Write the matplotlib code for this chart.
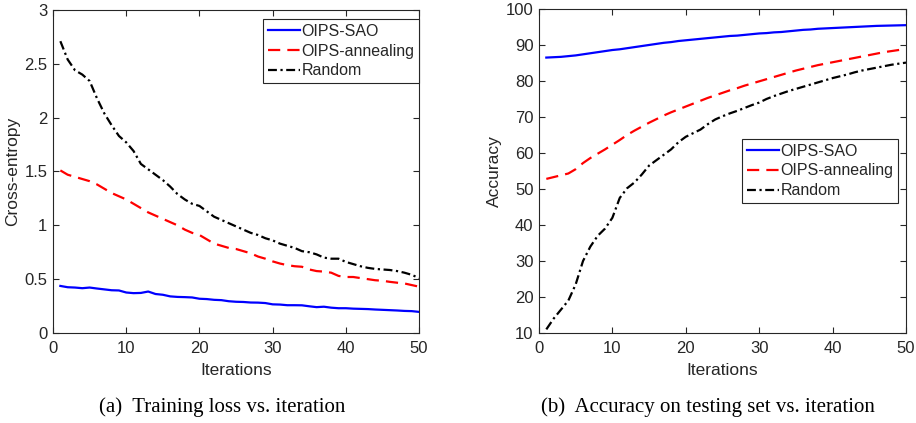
import numpy as np
import matplotlib
matplotlib.use("Agg")
import matplotlib.pyplot as plt

plt.rcParams["font.family"] = ["Liberation Sans", "DejaVu Sans"]

iterations = list(range(1, 51))

# training loss (cross-entropy)
loss_sao = [0.437, 0.425, 0.422, 0.416, 0.422, 0.413, 0.405, 0.397, 0.395, 0.376,
            0.370, 0.372, 0.385, 0.362, 0.355, 0.340, 0.335, 0.333, 0.330, 0.318,
            0.315, 0.308, 0.305, 0.295, 0.290, 0.288, 0.283, 0.282, 0.278, 0.266,
            0.264, 0.258, 0.258, 0.257, 0.248, 0.240, 0.244, 0.235, 0.230, 0.230,
            0.226, 0.224, 0.222, 0.218, 0.215, 0.212, 0.209, 0.205, 0.203, 0.196]
loss_annealing = [1.51, 1.47, 1.45, 1.43, 1.41, 1.38, 1.34, 1.30, 1.27, 1.24,
                  1.20, 1.16, 1.12, 1.09, 1.06, 1.03, 1.00, 0.96, 0.93, 0.91,
                  0.87, 0.83, 0.81, 0.79, 0.78, 0.76, 0.74, 0.71, 0.69, 0.665,
                  0.645, 0.63, 0.62, 0.615, 0.59, 0.575, 0.57, 0.56, 0.53, 0.52,
                  0.52, 0.51, 0.50, 0.49, 0.485, 0.475, 0.467, 0.46, 0.445, 0.43]
loss_random = [2.71, 2.54, 2.44, 2.40, 2.34, 2.18, 2.04, 1.93, 1.83, 1.77,
               1.69, 1.57, 1.52, 1.47, 1.42, 1.36, 1.29, 1.24, 1.20, 1.18,
               1.13, 1.08, 1.05, 1.02, 0.99, 0.96, 0.93, 0.91, 0.88, 0.86,
               0.83, 0.81, 0.79, 0.76, 0.75, 0.73, 0.70, 0.69, 0.69, 0.66,
               0.64, 0.62, 0.605, 0.595, 0.59, 0.585, 0.575, 0.56, 0.54, 0.51]

# accuracy on testing set
acc_sao = [86.5, 86.6, 86.7, 86.9, 87.1, 87.4, 87.7, 88.0, 88.3, 88.6,
           88.8, 89.1, 89.4, 89.7, 90.0, 90.3, 90.6, 90.8, 91.1, 91.3,
           91.5, 91.7, 91.9, 92.1, 92.3, 92.5, 92.6, 92.8, 93.0, 93.2,
           93.3, 93.5, 93.6, 93.8, 94.0, 94.2, 94.3, 94.5, 94.6, 94.7,
           94.8, 94.9, 95.0, 95.1, 95.2, 95.3, 95.35, 95.4, 95.45, 95.5]
acc_annealing = [52.8, 53.3, 53.8, 54.3, 55.5, 57.2, 58.6, 59.8, 61.0, 62.3,
                 63.6, 65.0, 66.2, 67.3, 68.4, 69.4, 70.4, 71.3, 72.1, 72.9,
                 73.7, 74.5, 75.3, 76.0, 76.7, 77.4, 78.0, 78.7, 79.3, 79.9,
                 80.5, 81.1, 81.7, 82.3, 82.9, 83.4, 83.9, 84.4, 84.8, 85.2,
                 85.6, 86.0, 86.4, 86.8, 87.2, 87.6, 88.0, 88.3, 88.6, 88.9]
acc_random = [11.0, 14.0, 16.5, 19.0, 23.5, 30.0, 34.0, 37.0, 39.0, 42.0,
              47.5, 50.2, 51.8, 54.0, 56.5, 58.0, 59.5, 61.0, 63.0, 64.5,
              65.5, 66.5, 68.0, 69.3, 70.2, 71.0, 71.7, 72.5, 73.3, 74.0,
              75.0, 75.8, 76.5, 77.2, 77.8, 78.4, 79.0, 79.6, 80.2, 80.8,
              81.3, 81.8, 82.4, 82.9, 83.3, 83.7, 84.1, 84.5, 84.8, 85.1]

labels = ["OIPS-SAO", "OIPS-annealing", "Random"]
AXCOL = "#262626"


def style_axes(ax):
    ax.tick_params(direction="in", top=True, right=True, length=4, width=0.8,
                   labelsize=12, colors=AXCOL)
    ax.tick_params(axis="x", pad=6)
    ax.tick_params(axis="y", pad=4)
    for s in ax.spines.values():
        s.set_color(AXCOL)
        s.set_linewidth(0.8)
    ax.set_xlabel("Iterations", fontsize=12.5, color=AXCOL, labelpad=5)


def draw_lines(ax, sao, ann, rnd):
    ax.plot(iterations, sao, "-", color="#0000ff", lw=1.6)
    ax.plot(iterations, ann, color="#ff0000", lw=1.6, dashes=(5.5, 3.2))
    ax.plot(iterations, rnd, color="black", lw=1.6, dashes=(4, 1.6, 1, 1.6))


fig = plt.figure(figsize=(9.16, 4.23), dpi=100)
ax1 = fig.add_axes([0.0579, 0.2128, 0.3996, 0.7636])
ax2 = fig.add_axes([0.5884, 0.2128, 0.4007, 0.7660])

draw_lines(ax1, loss_sao, loss_annealing, loss_random)
ax1.set_xlim(0, 50)
ax1.set_ylim(0, 3)
ax1.set_xticks([0, 10, 20, 30, 40, 50])
ax1.set_yticks([0, 0.5, 1, 1.5, 2, 2.5, 3])
ax1.set_yticklabels(["0", "0.5", "1", "1.5", "2", "2.5", "3"])
ax1.set_ylabel("Cross-entropy", fontsize=12.5, color=AXCOL, labelpad=3)
style_axes(ax1)

draw_lines(ax2, acc_sao, acc_annealing, acc_random)
ax2.set_xlim(0, 50)
ax2.set_ylim(10, 100)
ax2.set_xticks([0, 10, 20, 30, 40, 50])
ax2.set_yticks(list(range(10, 101, 10)))
ax2.set_ylabel("Accuracy", fontsize=12.5, color=AXCOL, labelpad=3)
style_axes(ax2)

leg_kw = dict(fontsize=11.5, frameon=True, fancybox=False, framealpha=1,
              edgecolor=AXCOL, handlelength=2.0, handletextpad=0.1,
              labelspacing=0.3, borderpad=0.3, borderaxespad=0)
l1 = ax1.legend(labels, loc="upper right", bbox_to_anchor=(1.0, 0.972), **leg_kw)
l2 = ax2.legend(labels, loc="upper right", bbox_to_anchor=(0.979, 0.599), **leg_kw)
for lg in (l1, l2):
    lg.get_frame().set_linewidth(0.8)
    for t in lg.get_texts():
        t.set_color(AXCOL)

cap_font = ["Liberation Serif", "DejaVu Serif"]
fig.text(0.243, 0.037, "(a)  Training loss vs. iteration", ha="center", va="center",
         fontsize=15, family=cap_font)
fig.text(0.773, 0.037, "(b)  Accuracy on testing set vs. iteration", ha="center",
         va="center", fontsize=15, family=cap_font)

fig.savefig("out.png", dpi=100)
